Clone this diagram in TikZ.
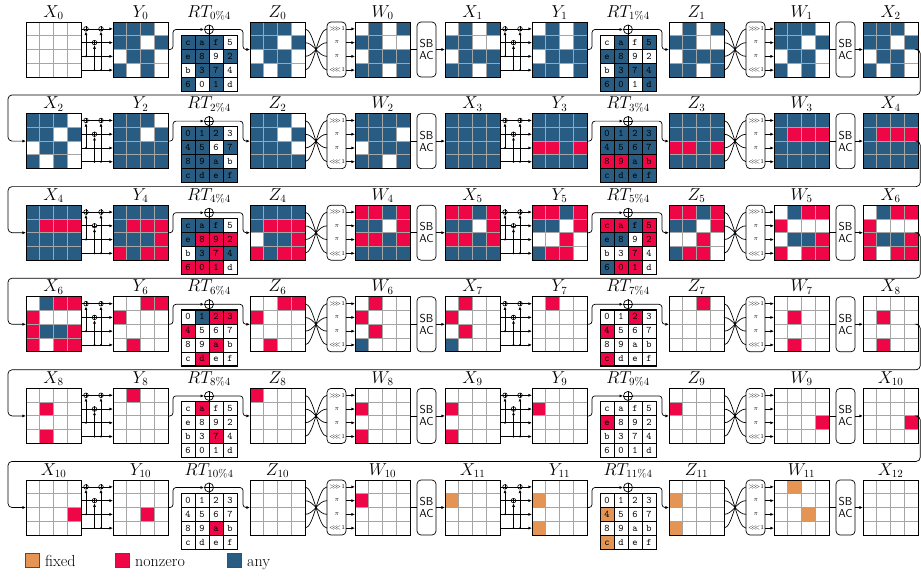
\documentclass[tikz,border=0pt]{standalone}
\usetikzlibrary{calc,arrows.meta}
\definecolor{anyc}{RGB}{40,92,130}
\definecolor{nzc}{RGB}{238,6,70}
\definecolor{fixc}{RGB}{229,149,83}
\definecolor{gline}{RGB}{165,165,165}
\tikzset{
  arr/.style={-{Latex[length=3.6pt,width=3pt]}, line width=0.7pt},
  wire/.style={line width=0.7pt},
  gridnode/.style={minimum size=55pt, inner sep=0pt, outer sep=0pt},
  rtnode/.style={minimum size=56pt, inner sep=0pt, outer sep=0pt},
  lbl/.style={anchor=base, inner sep=0pt, font=\fontsize{16}{19}\selectfont},
  opbox/.style={draw, rounded corners=4pt, minimum width=19pt, minimum height=55pt, inner sep=0pt, outer sep=0pt, line width=0.7pt},
  xorc/.style={circle, draw, fill=white, minimum size=9pt, inner sep=0pt, line width=0.7pt},
  mx/.style={circle, draw, fill=white, minimum size=4.6pt, inner sep=0pt, line width=0.6pt},
  rtcell/.style={draw, minimum size=14pt, inner sep=0pt, line width=0.6pt, font=\ttfamily\fontsize{10}{12}\selectfont},
  plbl/.style={inner sep=0pt, font=\fontsize{6}{7}\selectfont},
  legsq/.style={draw=black!70, minimum size=14pt, inner sep=0pt, line width=0.6pt},
  legtxt/.style={anchor=base west, inner sep=0pt, font=\fontsize{16}{19}\selectfont}
}
\newcommand\chA[1]{\ifcase\numexpr#1\relax c\or a\or f\or 5\or e\or 8\or 9\or 2\or b\or 3\or 7\or 4\or 6\or 0\or 1\or d\fi}
\newcommand\chB[1]{\ifcase\numexpr#1\relax 0\or 1\or 2\or 3\or 4\or 5\or 6\or 7\or 8\or 9\or a\or b\or c\or d\or e\or f\fi}
% grid: name, left, top, codes
\newcommand\mkgrid[4]{%
  \node[gridnode] (#1) at ({#2+27.5},{#3+27.5}) {};
  \foreach \cc [count=\ii from 0] in {#4} {%
    \pgfmathtruncatemacro\rr{\ii/4}%
    \pgfmathtruncatemacro\kk{\ii-4*\rr}%
    \ifcase\cc\relax\or
      \fill[anyc] ({#2+13.75*\kk},{#3+13.75*\rr}) rectangle ++(13.75,13.75);\or
      \fill[nzc] ({#2+13.75*\kk},{#3+13.75*\rr}) rectangle ++(13.75,13.75);\or
      \fill[fixc] ({#2+13.75*\kk},{#3+13.75*\rr}) rectangle ++(13.75,13.75);\fi
  }%
  \draw[gline, line width=0.9pt] \foreach \t in {1,2,3} {({#2+13.75*\t},{#3}) -- ++(0,55) ({#2},{#3+13.75*\t}) -- ++(55,0)};
  \draw[line width=0.8pt] ({#2},{#3}) rectangle ++(55,55);
}
% round-tweakey grid: name, left, top, codes, A/B
\newcommand\mkrt[5]{%
  \node[rtnode] (#1) at ({#2+28},{#3+28}) {};
  \foreach \cc [count=\ii from 0] in {#4} {%
    \pgfmathtruncatemacro\rr{\ii/4}%
    \pgfmathtruncatemacro\kk{\ii-4*\rr}%
    \ifcase\cc\relax\def\fc{white}\or\def\fc{anyc}\or\def\fc{nzc}\or\def\fc{fixc}\fi
    \node[rtcell, fill=\fc] (#1-\ii) at ({#2+14*\kk+7},{#3+14*\rr+7}) {\vphantom{bd}\csname ch#5\endcsname{\ii}};
  }%
  \draw[line width=0.8pt] ({#2},{#3}) rectangle ++(56,56);
}
% one round: r, ox, oy, X, Y, RT, Z, W, RT text variant
\newcommand\rnd[9]{%
  \mkgrid{X#1}{26+#2}{22+#3}{#4}
  \mkgrid{Y#1}{113+#2}{22+#3}{#5}
  \mkrt{RT#1}{181+#2}{35+#3}{#6}{#9}
  \mkgrid{Z#1}{250+#2}{22+#3}{#7}
  \mkgrid{W#1}{355+#2}{22+#3}{#8}
  \node[lbl] (lX#1) at ({53.5+#2},{17+#3}) {$X_{#1}$};
  \node[lbl] (lY#1) at ({140.5+#2},{17+#3}) {$Y_{#1}$};
  \node[lbl] (lRT#1) at ({209+#2},{17+#3}) {$RT_{#1\%4}$};
  \node[lbl] (lZ#1) at ({277.5+#2},{17+#3}) {$Z_{#1}$};
  \node[lbl] (lW#1) at ({382.5+#2},{17+#3}) {$W_{#1}$};
  % MixColumn wiring
  \foreach \i in {0,...,3}{\draw[arr] ([yshift={-6.875pt-13.75pt*\i}]X#1.north east) -- ([yshift={-6.875pt-13.75pt*\i}]Y#1.north west);}
  \node[mx] (ma#1) at ({86+#2},{28.875+#3}) {};
  \node[mx] (mb#1) at ({94.5+#2},{42.625+#3}) {};
  \node[mx] (mc#1) at ({101+#2},{28.875+#3}) {};
  \foreach \m in {ma,mb,mc}{\draw[line width=0.5pt] (\m#1.north) -- (\m#1.south) (\m#1.west) -- (\m#1.east);}
  \coordinate (da#1) at ({86+#2},{56.375+#3});
  \coordinate (db#1) at ({94.5+#2},{70.125+#3});
  \coordinate (dc#1) at ({101+#2},{70.125+#3});
  \foreach \m in {a,b,c}{\fill (d\m#1) circle (1.1pt); \draw[arr] (d\m#1) -- (m\m#1.south);}
  % tweakey addition
  \node[xorc] (xr#1) at ({209+#2},{29.5+#3}) {};
  \draw[line width=0.7pt] (xr#1.north) -- (xr#1.south) (xr#1.west) -- (xr#1.east);
  \draw[wire] (xr#1.south) -- (RT#1.north);
  \draw[arr, rounded corners=3pt] (Y#1.east) -- ++(5,0) |- (xr#1.west);
  \draw[arr, rounded corners=3pt] (xr#1.east) -| ($(Z#1.west)+(-7,0)$) -- (Z#1.west);
  % permutation
  \node[opbox] (P#1) at ({336.5+#2},{49.5+#3}) {};
  \node[plbl] (P#1-0) at ({337+#2},{28.875+#3}) {$>\!\!>\!\!>$1};
  \node[plbl] (P#1-1) at ({337+#2},{42.625+#3}) {$\pi$};
  \node[plbl] (P#1-2) at ({337+#2},{56.375+#3}) {$\pi$};
  \node[plbl] (P#1-3) at ({337+#2},{70.125+#3}) {$<\!\!<\!\!<$1};
  \foreach \i in {0,...,3}{%
    \pgfmathtruncatemacro\jj{3-\i}%
    \draw[wire] ([yshift={-6.875pt-13.75pt*\i}]Z#1.north east) .. controls +(9,0) and +(-9,0) .. ([yshift={-6.875pt-13.75pt*\jj}]P#1.north west);
    \draw[arr] ([yshift={-6.875pt-13.75pt*\i}]P#1.north east) -- ([yshift={-6.875pt-13.75pt*\i}]W#1.north west);
  }
  % SB AC
  \node[opbox, align=center, font=\sffamily\fontsize{11.5}{13}\selectfont] (SB#1) at ({426.5+#2},{49.5+#3}) {SB\\[-1pt]AC};
  \draw[wire] (W#1.east) -- (SB#1.west);
}
\begin{document}
\begin{tikzpicture}[x=1pt,y=-1pt]
\useasboundingbox (0,0) rectangle (921,579);
\fill[white] (0,0) rectangle (921,579);
% row 1
\rnd{0}{0}{0}{0,0,0,0,0,0,0,0,0,0,0,0,0,0,0,0}{1,1,1,0,1,1,0,1,0,1,1,0,1,0,1,0}{1,1,1,0,1,1,0,1,0,1,1,0,1,0,1,0}{1,1,1,0,1,1,0,1,0,1,1,0,1,0,1,0}{0,1,0,1,1,1,0,0,0,1,1,1,1,1,0,1}{A}
\rnd{1}{419}{0}{0,1,0,1,1,1,0,0,0,1,1,1,1,1,0,1}{0,1,0,1,1,1,0,1,0,1,1,1,1,1,0,1}{0,1,0,1,1,1,0,0,0,1,1,1,1,1,0,1}{0,1,0,1,1,1,0,0,0,1,1,1,1,1,0,1}{1,1,1,0,1,1,0,1,0,1,1,0,1,0,1,0}{A}
\mkgrid{E2}{863}{22}{1,1,1,0,1,1,0,1,0,1,1,0,1,0,1,0}
\node[lbl] (lE2) at (890.5,17) {$X_{2}$};
% row 2
\rnd{2}{0}{91.6}{1,1,1,0,1,1,0,1,0,1,1,0,1,0,1,0}{1,1,1,0,1,1,0,1,1,1,1,1,1,1,1,1}{1,1,1,0,1,1,0,1,1,1,1,0,1,1,1,1}{1,1,1,0,1,1,0,1,1,1,1,0,1,1,1,1}{1,1,1,1,1,1,1,0,0,1,1,1,1,1,0,1}{B}
\rnd{3}{419}{91.6}{1,1,1,1,1,1,1,1,1,1,1,1,1,1,1,1}{1,1,1,1,1,1,1,1,2,2,1,2,1,1,1,1}{1,1,1,1,1,1,1,1,2,2,1,2,1,1,1,1}{1,1,1,1,1,1,1,1,2,2,1,2,1,1,1,1}{1,1,1,1,1,2,2,2,1,1,1,1,1,1,1,1}{B}
\mkgrid{E4}{863}{113.6}{1,1,1,1,1,2,2,2,1,1,1,1,1,1,1,1}
\node[lbl] (lE4) at (890.5,108.6) {$X_{4}$};
% row 3
\rnd{4}{0}{183.2}{1,1,1,1,1,2,2,2,1,1,1,1,1,1,1,1}{1,1,1,1,1,2,2,2,1,1,1,2,2,1,2,2}{1,1,1,0,1,2,2,2,0,1,2,1,2,2,2,0}{1,1,1,1,1,2,2,2,0,1,1,2,2,1,2,2}{2,2,1,2,1,1,0,2,2,2,1,2,1,1,1,1}{A}
\rnd{5}{419}{183.2}{2,2,1,2,1,1,0,2,2,2,1,2,1,1,1,1}{2,2,1,2,1,1,0,2,0,0,2,0,1,2,2,0}{2,2,1,2,1,1,0,2,0,0,2,0,1,2,2,0}{2,2,1,2,1,1,0,2,0,0,2,0,1,2,2,0}{0,1,2,2,2,0,0,0,0,1,1,2,2,0,2,2}{A}
\mkgrid{E6}{863}{205.2}{0,1,2,2,2,0,0,0,2,1,1,2,2,0,2,2}
\node[lbl] (lE6) at (890.5,200.2) {$X_{6}$};
% row 4
\rnd{6}{0}{274.8}{0,1,2,2,2,0,0,0,2,1,1,2,2,0,2,2}{0,0,2,2,2,0,0,0,0,0,0,0,0,2,0,0}{0,1,2,2,2,0,0,0,0,0,2,0,0,2,0,0}{0,0,2,2,2,0,0,0,0,0,0,0,0,2,0,0}{0,2,0,0,2,0,0,0,0,2,0,0,1,0,0,0}{B}
\rnd{7}{419}{274.8}{0,2,0,0,2,0,0,0,0,2,0,0,1,0,0,0}{0,2,0,0,0,0,0,0,0,0,0,0,0,0,0,0}{0,0,2,0,2,0,0,0,0,0,0,0,2,0,0,0}{0,0,2,0,0,0,0,0,0,0,0,0,0,0,0,0}{0,0,0,0,0,2,0,0,0,0,0,0,0,2,0,0}{B}
\mkgrid{E8}{863}{296.8}{0,0,0,0,0,2,0,0,0,0,0,0,0,2,0,0}
\node[lbl] (lE8) at (890.5,291.8) {$X_{8}$};
% row 5
\rnd{8}{0}{366.4}{0,0,0,0,0,2,0,0,0,0,0,0,0,2,0,0}{0,2,0,0,0,0,0,0,0,0,0,0,0,0,0,0}{0,2,0,0,0,0,0,0,0,0,2,0,0,0,0,0}{2,0,0,0,0,0,0,0,0,0,0,0,0,0,0,0}{0,0,0,0,2,0,0,0,0,0,0,0,2,0,0,0}{A}
\rnd{9}{419}{366.4}{0,0,0,0,2,0,0,0,0,0,0,0,2,0,0,0}{0,0,0,0,2,0,0,0,0,0,0,0,0,0,0,0}{0,0,0,0,2,0,0,0,0,0,0,0,0,0,0,0}{0,0,0,0,2,0,0,0,0,0,0,0,0,0,0,0}{0,0,0,0,0,0,0,0,0,0,0,2,0,0,0,0}{A}
\mkgrid{E10}{863}{388.4}{0,0,0,0,0,0,0,0,0,0,0,2,0,0,0,0}
\node[lbl] (lE10) at (890.5,383.4) {$X_{10}$};
% row 6
\rnd{10}{0}{458}{0,0,0,0,0,0,0,0,0,0,0,2,0,0,0,0}{0,0,0,0,0,0,0,0,0,0,2,0,0,0,0,0}{0,0,0,0,0,0,0,0,0,0,2,0,0,0,0,0}{0,0,0,0,0,0,0,0,0,0,0,0,0,0,0,0}{0,0,0,0,2,0,0,0,0,0,0,0,0,0,0,0}{B}
\rnd{11}{419}{458}{0,0,0,0,3,0,0,0,0,0,0,0,0,0,0,0}{0,0,0,0,3,0,0,0,0,0,0,0,3,0,0,0}{0,0,0,0,3,0,0,0,0,0,0,0,3,0,0,0}{0,0,0,0,3,0,0,0,0,0,0,0,3,0,0,0}{0,3,0,0,0,0,0,0,0,0,3,0,0,0,0,0}{B}
\mkgrid{E12}{863}{480}{0,0,0,0,0,0,0,0,0,0,0,0,0,0,0,0}
\node[lbl] (lE12) at (890.5,475) {$X_{12}$};
% SB -> next X
\foreach \r/\t in {0/X1,1/E2,2/X3,3/E4,4/X5,5/E6,6/X7,7/E8,8/X9,9/E10,10/X11,11/E12}{\draw[arr] (SB\r.east) -- (\t.west);}
% row transitions
\foreach \a/\b in {E2/X2,E4/X4,E6/X6,E8/X8,E10/X10}{%
  \draw[arr, rounded corners=4pt] (\a.east) -- ++(2.2,0) -- ++(0,45.5) -| ($(\b.west)+(-18,0)$) -- (\b.west);}
% legend
\node[legsq, fill=fixc] (lg1) at (32,560) {};
\node[legtxt] (lt1) at (45,566.5) {fixed};
\node[legsq, fill=nzc] (lg2) at (122.5,560) {};
\node[legtxt] (lt2) at (135,566.5) {nonzero};
\node[legsq, fill=anyc] (lg3) at (234.5,560) {};
\node[legtxt] (lt3) at (247,566.5) {any};
\end{tikzpicture}
\end{document}
